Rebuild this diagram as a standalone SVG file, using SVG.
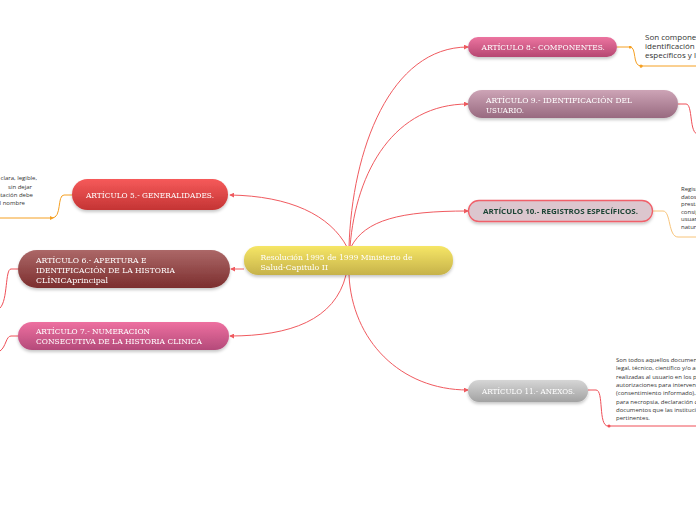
<svg xmlns="http://www.w3.org/2000/svg" width="696" height="520" viewBox="0 0 696 520">
<defs>
<style>
.lbl{font-family:"DejaVu Serif","Liberation Serif",serif;font-size:8.2px;fill:#ffffff}
.lbl10{font-family:"Open Sans","Liberation Sans",sans-serif;font-size:7.6px;font-weight:bold;fill:#1d4536}
.note{font-family:"Open Sans","Liberation Sans",sans-serif;font-size:6px;fill:#333333}
.note8{font-family:"Open Sans","Liberation Sans",sans-serif;font-size:8px;fill:#333333}
.conn{fill:none;stroke:#f05a5f;stroke-width:1}
.side-o{fill:none;stroke:#f5a023;stroke-width:1}
.side-lo{fill:none;stroke:#f8c47a;stroke-width:1}
.side-r{fill:none;stroke:#ef4f57;stroke-width:1}
</style>
<filter id="sh" x="-10%" y="-30%" width="120%" height="180%">
<feDropShadow dx="0" dy="2" stdDeviation="1.8" flood-color="#000" flood-opacity="0.22"/>
</filter>
<marker id="ar" viewBox="0 0 6 6" refX="5" refY="3" markerWidth="5" markerHeight="5" markerUnits="userSpaceOnUse" orient="auto">
<path d="M0,0 L6,3 L0,6 Z" fill="#f05a5f"/>
</marker>
<marker id="dotO" viewBox="0 0 4 4" refX="2" refY="2" markerWidth="3" markerHeight="3" markerUnits="userSpaceOnUse">
<circle cx="2" cy="2" r="2" fill="#f5a023"/>
</marker>
<marker id="dotR" viewBox="0 0 4 4" refX="2" refY="2" markerWidth="3" markerHeight="3" markerUnits="userSpaceOnUse">
<circle cx="2" cy="2" r="2" fill="#ef4f57"/>
</marker>
<linearGradient id="gC" x1="0" y1="0" x2="0" y2="1"><stop offset="0" stop-color="#f6e666"/><stop offset="1" stop-color="#c6b24a"/></linearGradient>
<linearGradient id="g8" x1="0" y1="0" x2="0" y2="1"><stop offset="0" stop-color="#ec74a0"/><stop offset="1" stop-color="#b64872"/></linearGradient>
<linearGradient id="g9" x1="0" y1="0" x2="0" y2="1"><stop offset="0" stop-color="#cda4b6"/><stop offset="1" stop-color="#986a80"/></linearGradient>
<linearGradient id="g11" x1="0" y1="0" x2="0" y2="1"><stop offset="0" stop-color="#d6d6d6"/><stop offset="1" stop-color="#a2a2a2"/></linearGradient>
<linearGradient id="g5" x1="0" y1="0" x2="0" y2="1"><stop offset="0" stop-color="#f65a5a"/><stop offset="1" stop-color="#c43434"/></linearGradient>
<linearGradient id="g6" x1="0" y1="0" x2="0" y2="1"><stop offset="0" stop-color="#ac6868"/><stop offset="1" stop-color="#7c2e2e"/></linearGradient>
<linearGradient id="g7" x1="0" y1="0" x2="0" y2="1"><stop offset="0" stop-color="#ee70a0"/><stop offset="1" stop-color="#b44a7a"/></linearGradient>
</defs>
<rect width="696" height="520" fill="#ffffff"/>

<g id="connectors">
<path class="conn" d="M349,247 C352,150 390,47 468,47" marker-end="url(#ar)"/>
<path class="conn" d="M350,247 C356,170 395,104 468,104" marker-end="url(#ar)"/>
<path class="conn" d="M351,247 C365,220 400,211 468,211" marker-end="url(#ar)"/>
<path class="conn" d="M349,275 C352,340 400,390 468,390" marker-end="url(#ar)"/>
<path class="conn" d="M347,247 C330,215 290,196 230,195" marker-end="url(#ar)"/>
<path class="conn" d="M244,269 L231,269" marker-end="url(#ar)"/>
<path class="conn" d="M346,275 C335,320 290,336 230,336" marker-end="url(#ar)"/>

<path class="side-o" d="M617,47 L630,47 C637,47 632,66 641,66 L696,66" marker-mid="url(#dotO)"/>
<circle cx="641" cy="66" r="1.5" fill="#f5a023"/>
<path class="side-r" d="M678,104 L686,104 C693,104 689,134 698,134"/>
<path class="side-lo" d="M653,211 L663,211 C671,211 668,237 678,237 L696,237"/>
<path class="side-r" d="M588,390 L596,390 C604,390 598,426 608,426 L696,426"/>
<circle cx="609" cy="426" r="1.5" fill="#ef4f57"/>
<path class="side-o" d="M72,195 L64,195 C57,195 62,218 52,218 L0,218"/>
<path d="M50,216 L54,218 L50,220 Z" fill="#f5a023"/>
<path class="side-r" d="M18,269 L11,269 C5,269 8,300 0,308"/>
<path class="side-r" d="M18,336 L11,336 C6,336 6,347 0,351"/>
</g>

<g id="center" filter="url(#sh)">
<rect x="244" y="246" width="209" height="29" rx="14" fill="url(#gC)"/>
<text class="lbl" x="260.5" y="259.5" textLength="152" lengthAdjust="spacingAndGlyphs">Resolución 1995 de 1999 Ministerio de</text>
<text class="lbl" x="260.5" y="269.5" textLength="67.5" lengthAdjust="spacingAndGlyphs">Salud-Capitulo II</text>
</g>

<g id="art8" filter="url(#sh)">
<rect x="468" y="37" width="149" height="20" rx="10" fill="url(#g8)"/>
<text class="lbl" x="481.5" y="50" textLength="123.5" lengthAdjust="spacingAndGlyphs">ARTÍCULO 8.- COMPONENTES.</text>
</g>

<g id="art9" filter="url(#sh)">
<rect x="468" y="90" width="210" height="28" rx="14" fill="url(#g9)"/>
<text class="lbl" x="486" y="103" textLength="146" lengthAdjust="spacingAndGlyphs">ARTÍCULO 9.- IDENTIFICACIÓN DEL</text>
<text class="lbl" x="486" y="113" textLength="38" lengthAdjust="spacingAndGlyphs">USUARIO.</text>
</g>

<g id="art10" filter="url(#sh)">
<rect x="468.5" y="200.5" width="184" height="21" rx="10.5" fill="#dcc6ce" stroke="#f0606a" stroke-width="1.3"/>
<text class="lbl10" x="483" y="214" textLength="155" lengthAdjust="spacingAndGlyphs">ARTÍCULO 10.- REGISTROS ESPECÍFICOS.</text>
</g>

<g id="art11" filter="url(#sh)">
<rect x="468" y="380" width="120" height="22" rx="11" fill="url(#g11)"/>
<text class="lbl" x="482" y="393.5" textLength="93" lengthAdjust="spacingAndGlyphs">ARTÍCULO 11.- ANEXOS.</text>
</g>

<g id="art5" filter="url(#sh)">
<rect x="72" y="179" width="156" height="31" rx="15.5" fill="url(#g5)"/>
<text class="lbl" x="86" y="198" textLength="128" lengthAdjust="spacingAndGlyphs">ARTÍCULO 5.- GENERALIDADES.</text>
</g>

<g id="art6" filter="url(#sh)">
<rect x="18" y="250" width="212" height="38" rx="19" fill="url(#g6)"/>
<text class="lbl" x="36" y="263" textLength="110.5" lengthAdjust="spacingAndGlyphs">ARTÍCULO 6.- APERTURA E</text>
<text class="lbl" x="36" y="273" textLength="139" lengthAdjust="spacingAndGlyphs">IDENTIFICACIÓN DE LA HISTORIA</text>
<text class="lbl" x="36" y="282.5" textLength="72" lengthAdjust="spacingAndGlyphs">CLÍNICAprincipal</text>
</g>

<g id="art7" filter="url(#sh)">
<rect x="18" y="322" width="211" height="28" rx="14" fill="url(#g7)"/>
<text class="lbl" x="36" y="334" textLength="114" lengthAdjust="spacingAndGlyphs">ARTÍCULO 7.- NUMERACION</text>
<text class="lbl" x="36" y="343.5" textLength="166" lengthAdjust="spacingAndGlyphs">CONSECUTIVA DE LA HISTORIA CLINICA</text>
</g>

<g id="note8">
<text class="note8" x="645" y="39.5">Son componentes de la historia clínica</text>
<text class="note8" x="645" y="48.5">identificación del usuario, los registros</text>
<text class="note8" x="645" y="57.5">específicos y los anexos.</text>
</g>

<g id="note5">
<text class="note" x="37" y="180" text-anchor="end">clara, legible,</text>
<text class="note" x="32" y="188.5" text-anchor="end">sin dejar</text>
<text class="note" x="33" y="196.5" text-anchor="end">otación debe</text>
<text class="note" x="25" y="204.5" text-anchor="end">l nombre</text>
</g>

<g id="note10">
<text class="note" x="681" y="191">Registro</text>
<text class="note" x="681" y="198.5">datos e</text>
<text class="note" x="681" y="206">prestación</text>
<text class="note" x="681" y="213.5">consigna</text>
<text class="note" x="681" y="221">usuario</text>
<text class="note" x="681" y="228.5">naturaleza</text>
</g>

<g id="note11">
<text class="note" x="616" y="362">Son todos aquellos documentos que sirven como sustento</text>
<text class="note" x="616" y="370.3">legal, técnico, científico y/o administrativo de las acciones</text>
<text class="note" x="616" y="378.7">realizadas al usuario en los procesos de atención, tales como:</text>
<text class="note" x="616" y="387">autorizaciones para intervenciones quirúrgicas</text>
<text class="note" x="616" y="395.3">(consentimiento informado), procedimientos, autorización</text>
<text class="note" x="616" y="403.7">para necropsia, declaración de retiro voluntario y demás</text>
<text class="note" x="616" y="412">documentos que las instituciones prestadoras consideren</text>
<text class="note" x="616" y="420.3">pertinentes.</text>
</g>
</svg>
